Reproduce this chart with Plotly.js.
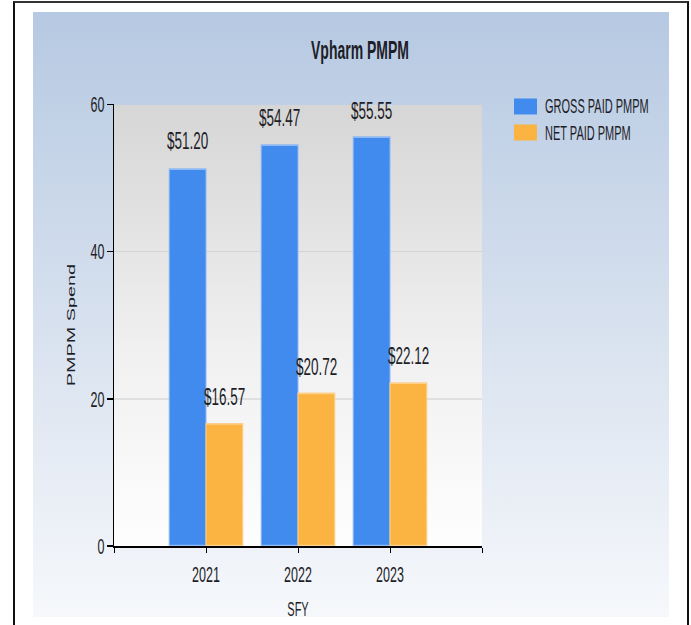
<!DOCTYPE html>
<html>
<head>
<meta charset="utf-8">
<script src="https://cdn.plot.ly/plotly-3.0.1.min.js"></script>
<style>
  html, body { margin: 0; padding: 0; background: #ffffff; overflow: hidden; }
  #wrap { position: relative; width: 691px; height: 625px; overflow: hidden; }
  #frame { position: absolute; left: 13px; top: 1px; width: 672px; height: 640px;
           border-left: 2px solid #111; border-top: 2px solid #333; border-right: 2px solid #111; }
  #panel { position: absolute; left: 33px; top: 12px; width: 636px; height: 605px;
           background: linear-gradient(to bottom, #b6c9e2 0%, #d3deed 45%, #f6f8fb 100%); }
  #plotbg { position: absolute; left: 114px; top: 105px; width: 368px; height: 441px;
            background: linear-gradient(to bottom, #d6d6d6 0%, #f0f0f0 55%, #fefefe 100%); }
  #chart { position: absolute; left: 0; top: 0; width: 691px; height: 347px;
           transform-origin: 0 0; }
</style>
</head>
<body>
<div id="wrap">
  <div id="frame"></div>
  <div id="panel"></div>
  <div id="plotbg"></div>
  <div id="chart"></div>
</div>
<script>
// ---- data ----
var years = [2021, 2022, 2023];
var yearLabels = ['2021', '2022', '2023'];
var grossPaid = [51.20, 54.47, 55.55];
var netPaid = [16.57, 20.72, 22.12];
var seriesNames = ['GROSS PAID PMPM', 'NET PAID PMPM'];
var yTicks = [0, 20, 40, 60];

// The reference is a chart image stretched vertically; render short and stretch.
var W = 691, H = 347, REAL_H = 625;
var S = REAL_H / H;
document.getElementById('chart').style.transform = 'scaleY(' + S + ')';

var font = '"Liberation Sans", Arial, sans-serif';
var textColor = '#1e1e28';
var blue = '#428bee';
var orange = '#fbb441';
var bargap = 0.2;

var series = [grossPaid, netPaid];
var colors = [blue, orange];
var edge = ['#8db8f3', '#fcd08a'];

var traces = series.map(function (vals, i) {
  return {
    type: 'bar',
    x: years,
    y: vals,
    name: seriesNames[i],
    marker: { color: colors[i], line: { color: edge[i], width: 1 } },
    hoverinfo: 'x+y'
  };
});

// plot area in real pixels
var plotL = 114, plotR = 482, plotT = 105, plotB = 546;
function px2paperX(px) { return (px - plotL) / (plotR - plotL); }
function px2paperY(py) { return (plotB - py) / (plotB - plotT); }

var annotations = [];
series.forEach(function (vals, i) {
  var off = (i - (series.length - 1) / 2) * (1 - bargap) / series.length;
  vals.forEach(function (v, j) {
    annotations.push({
      x: years[j] + off, y: v, xref: 'x', yref: 'y',
      text: '$' + v.toFixed(2), showarrow: false,
      yanchor: 'bottom', xanchor: 'center', yshift: 5.5,
      font: { family: font, size: 13.5, color: textColor }
    });
  });
});

// legend (drawn manually to match swatch shape/spacing)
var shapes = [];
var legendTop = [99, 125];
seriesNames.forEach(function (name, i) {
  shapes.push({
    type: 'rect', xref: 'paper', yref: 'paper',
    x0: px2paperX(514), x1: px2paperX(537),
    y0: px2paperY(legendTop[i]), y1: px2paperY(legendTop[i] + 16),
    fillcolor: colors[i], line: { width: 0 }
  });
  annotations.push({
    xref: 'paper', yref: 'paper',
    x: px2paperX(543), y: px2paperY(legendTop[i] + 8),
    xanchor: 'left', yanchor: 'middle', showarrow: false,
    text: name, font: { family: font, size: 11, color: textColor }
  });
});

var xTickVals = [years[0] - 1].concat(years, [years[years.length - 1] + 1]);
var xTickText = [''].concat(yearLabels, ['']);

var layout = {
  width: W, height: H,
  margin: { l: plotL, r: W - plotR, t: plotT / S, b: H - plotB / S, pad: 0 },
  paper_bgcolor: 'rgba(0,0,0,0)',
  plot_bgcolor: 'rgba(0,0,0,0)',
  barmode: 'group',
  bargap: bargap,
  bargroupgap: 0,
  title: {
    text: 'Vpharm PMPM',
    font: { family: font, size: 14, color: textColor, weight: 'bold' },
    xref: 'container', yref: 'container',
    x: 360 / W, xanchor: 'center',
    y: 1 - 50 / REAL_H, yanchor: 'middle'
  },
  xaxis: {
    range: [years[0] - 1, years[years.length - 1] + 1],
    tickmode: 'array', tickvals: xTickVals, ticktext: xTickText,
    ticks: 'outside', ticklen: 3, tickwidth: 1, tickcolor: '#000',
    showline: true, linecolor: '#000', linewidth: 1.1,
    showgrid: false, zeroline: false,
    ticklabelstandoff: 1,
    tickfont: { family: font, size: 12.5, color: textColor },
    title: { text: 'SFY', standoff: 9, font: { family: font, size: 11, color: textColor } },
    automargin: false, fixedrange: true
  },
  yaxis: {
    range: [0, 60],
    tickmode: 'array', tickvals: yTicks,
    ticks: 'outside', ticklen: 6, tickwidth: 1, tickcolor: '#000',
    showline: true, linecolor: '#000', linewidth: 1,
    showgrid: true, gridcolor: 'rgba(0,0,0,0.08)', gridwidth: 1,
    zeroline: false,
    tickfont: { family: font, size: 12.5, color: textColor },
    title: { text: 'PMPM Spend', standoff: 12, font: { family: font, size: 11, color: textColor } },
    automargin: false, fixedrange: true
  },
  showlegend: false,
  shapes: shapes,
  annotations: annotations
};

Plotly.newPlot('chart', traces, layout, { displayModeBar: false, staticPlot: true });
</script>
</body>
</html>
